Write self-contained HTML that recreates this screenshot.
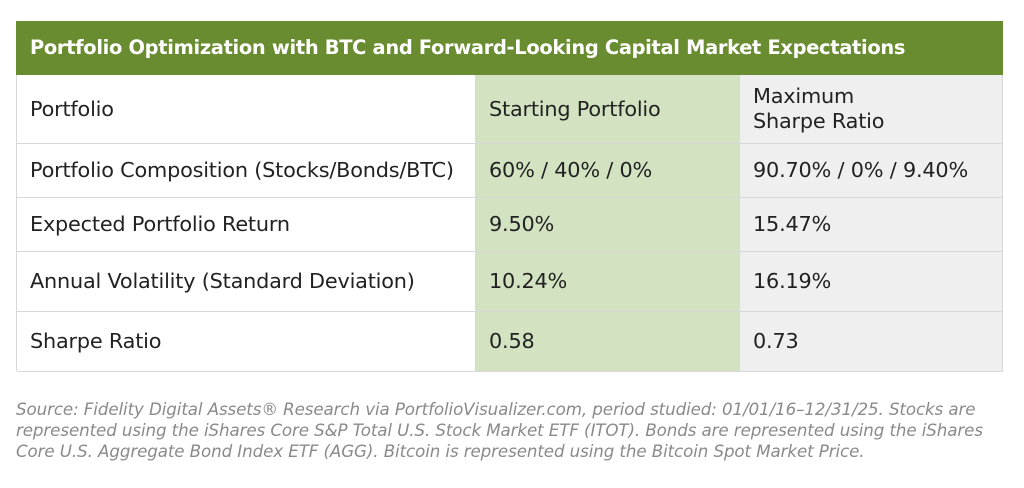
<!DOCTYPE html>
<html><head><meta charset="utf-8"><style>
body{margin:0;width:1024px;height:488px;background:#fff;position:relative;overflow:hidden;font-family:"DejaVu Sans","Liberation Sans",sans-serif;}
.a{position:absolute;box-sizing:border-box;}
.hdr{left:16px;top:21px;width:987px;height:54px;background:#6a8c31;color:#fff;font-weight:bold;font-size:19.4px;padding-left:14px;line-height:54px;letter-spacing:-0.3px;}
.c{font-size:20.8px;color:#222;display:flex;align-items:center;padding-left:13px;border-bottom:1px solid #d8d8d8;border-right:1px solid #d8d8d8;letter-spacing:-0.2px;line-height:25px;}
.g{background:#d3e3c1;}
.y{background:#efefef;}
.src{left:16px;top:399px;width:1008px;font-style:italic;color:#8a8a8a;font-size:16.7px;line-height:21px;letter-spacing:-0.1px;white-space:nowrap;}
</style></head><body>
<div class="a hdr">Portfolio Optimization with BTC and Forward-Looking Capital Market Expectations</div>
<div class="a" style="left:16px;top:75px;width:1px;height:296px;background:#d8d8d8"></div>

<div class="a c" style="left:17px;top:75px;width:459px;height:69px">Portfolio</div>
<div class="a c g" style="left:476px;top:75px;width:264px;height:69px">Starting Portfolio</div>
<div class="a c y" style="left:740px;top:75px;width:263px;height:69px">Maximum<br>Sharpe Ratio</div>

<div class="a c" style="left:17px;top:144px;width:459px;height:54px">Portfolio Composition (Stocks/Bonds/BTC)</div>
<div class="a c g" style="left:476px;top:144px;width:264px;height:54px">60% / 40% / 0%</div>
<div class="a c y" style="left:740px;top:144px;width:263px;height:54px">90.70% / 0% / 9.40%</div>

<div class="a c" style="left:17px;top:198px;width:459px;height:54px">Expected Portfolio Return</div>
<div class="a c g" style="left:476px;top:198px;width:264px;height:54px">9.50%</div>
<div class="a c y" style="left:740px;top:198px;width:263px;height:54px">15.47%</div>

<div class="a c" style="left:17px;top:252px;width:459px;height:60px">Annual Volatility (Standard Deviation)</div>
<div class="a c g" style="left:476px;top:252px;width:264px;height:60px">10.24%</div>
<div class="a c y" style="left:740px;top:252px;width:263px;height:60px">16.19%</div>

<div class="a c" style="left:17px;top:312px;width:459px;height:60px">Sharpe Ratio</div>
<div class="a c g" style="left:476px;top:312px;width:264px;height:60px">0.58</div>
<div class="a c y" style="left:740px;top:312px;width:263px;height:60px">0.73</div>

<div class="a src">Source: Fidelity Digital Assets® Research via PortfolioVisualizer.com, period studied: 01/01/16–12/31/25. Stocks are<br>represented using the iShares Core S&amp;P Total U.S. Stock Market ETF (ITOT). Bonds are represented using the iShares<br>Core U.S. Aggregate Bond Index ETF (AGG). Bitcoin is represented using the Bitcoin Spot Market Price.</div>
</body></html>
